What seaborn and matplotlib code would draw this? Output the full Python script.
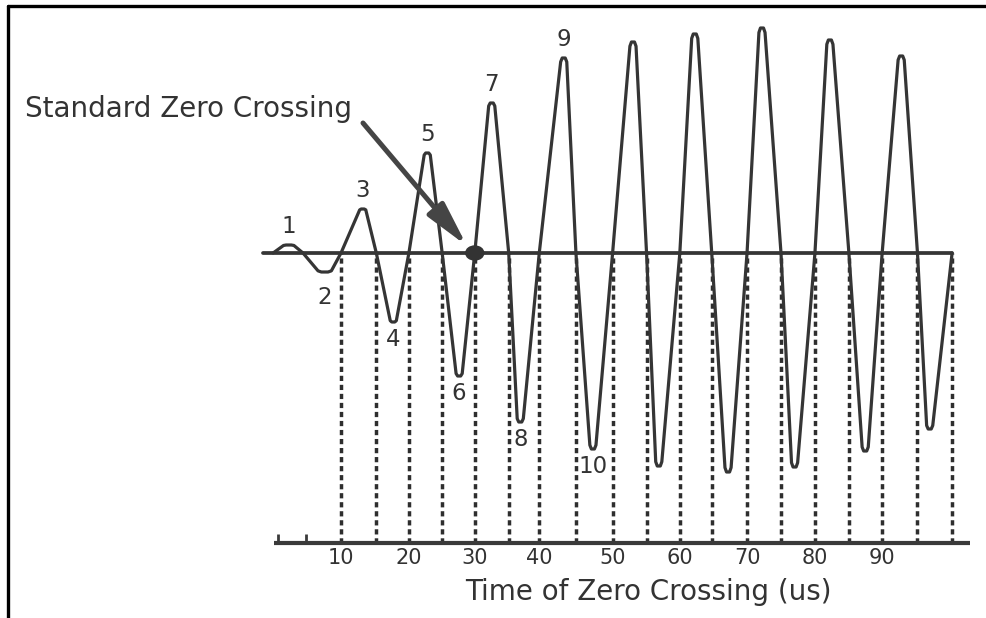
import numpy as np
import pandas as pd
import matplotlib
matplotlib.use("Agg")
import matplotlib.pyplot as plt
import seaborn as sns
from matplotlib.patches import Ellipse
from matplotlib.lines import Line2D

# ---------------- data ----------------
# zero-crossing times (us) bounding each half-cycle lobe
crossing_times = [0.0, 4.4, 10.0, 15.2, 20.0, 24.9, 29.7, 34.7, 39.2, 44.6, 50.0,
                  55.0, 59.9, 64.6, 69.8, 74.8, 79.8, 84.8, 89.7, 94.9, 100.0]
# time (us) of each lobe's extreme
peak_times = [2.3, 7.6, 13.2, 17.7, 22.7, 27.4, 32.2, 36.4, 42.8, 47.1,
              53.0, 56.8, 62.1, 67.0, 72.0, 76.8, 82.0, 87.2, 92.5, 96.7]
# lobe extreme amplitude (arbitrary units, + up)
peak_values = [8, -19, 44, -69, 100, -123, 150, -169, 195, -196,
               211, -213, 219, -219, 225, -214, 213, -198, 197, -176]
lobe_labels = ["1", "2", "3", "4", "5", "6", "7", "8", "9", "10"]
tick_values = [10, 20, 30, 40, 50, 60, 70, 80, 90]
minor_ticks = [0.7, 4.9]
highlight_index = 6          # crossing marked "Standard Zero Crossing"
title_text = "Standard Zero Crossing"
xlabel_text = "Time of Zero Crossing (us)"

# ---------------- layout helpers (pixel -> data) ----------------
W, H = 986, 618
X0, SX = 273.1, 6.79     # pixel x of t=0, pixels per us
Y0 = 253.0               # pixel y of zero line
def tx(px):
    return (px - X0) / SX
def ty(py):
    return Y0 - py

sns.set_theme(style="white")
plt.rcParams["font.family"] = ["DejaVu Sans"]

fig = plt.figure(figsize=(W / 100, H / 100), dpi=100)
ax = fig.add_axes([0, 0, 1, 1])
ax.set_xlim(tx(0), tx(W))
ax.set_ylim(ty(H), ty(0))
ax.axis("off")

line_col = "#353535"
text_col = "#333333"

# ---------------- waveform vertices ----------------
xs, ys = [], []
for i, (pt, a) in enumerate(zip(peak_times, peak_values)):
    t0, t1 = crossing_times[i], crossing_times[i + 1]
    half = 0.5 * (t1 - t0)
    h = 0.45 if abs(a) > 30 else 0.35 * half
    drop = 0.02 if abs(a) > 30 else 0.06
    xs += [t0, pt - h, pt - 0.5 * h, pt + 0.5 * h, pt + h]
    ys += [0, a * (1 - drop), a, a, a * (1 - drop)]
xs.append(crossing_times[-1])
ys.append(0)
wave = pd.DataFrame({"t": xs, "v": ys, "order": np.arange(len(xs))})

# zero line
ax.plot([tx(263), crossing_times[-1]], [0, 0], color=line_col, lw=2.7,
        solid_capstyle="butt", zorder=3)

# dashed drop lines from crossings to the time axis
axis_y = ty(543)
ax.vlines(crossing_times[2:], axis_y, 0, colors="#2e2e2e", lw=2.5,
          linestyles=[(0, (1.5, 1.1))], zorder=2)

sns.lineplot(data=wave, x="t", y="v", sort=False, estimator=None, ax=ax,
             color=line_col, lw=2.3, zorder=4)
for ln in ax.get_lines():
    ln.set_solid_joinstyle("round")
    ln.set_solid_capstyle("round")

# lobe number labels
for i, lab in enumerate(lobe_labels):
    a = peak_values[i]
    dy = 13.5 if a > 0 else -12.5
    if i == 1:
        dy = -18
    ax.annotate(lab, (peak_times[i], a), xytext=(0, dy), textcoords="offset points",
                ha="center", va="center", fontsize=16.5, color=text_col, zorder=5)

# highlighted crossing dot
hx = crossing_times[highlight_index]
ax.add_patch(Ellipse((hx, 0), width=18 / SX, height=14, color="#333333", zorder=6))

# arrow + annotation text
ax.annotate("", xy=(tx(467), ty(246)), xytext=(tx(363), ty(123)),
            arrowprops=dict(arrowstyle="-|>,head_length=1.5,head_width=0.35",
                            lw=3.6, color="#454545", shrinkA=0, shrinkB=0,
                            mutation_scale=18), zorder=6)
ax.text(tx(25), ty(109), title_text, ha="left", va="center", fontsize=20,
        color=text_col)

# time axis
ax.plot([tx(274), tx(970)], [axis_y, axis_y], color="#3a3a3a", lw=3.0,
        solid_capstyle="butt", zorder=3)
ax.vlines(minor_ticks, axis_y, axis_y + 9, colors="#3a3a3a", lw=2.0)
tick_pos = [crossing_times[2 * (v // 10)] for v in tick_values]
for p, v in zip(tick_pos, tick_values):
    ax.text(p, ty(558), str(v), ha="center", va="center", fontsize=15,
            color=text_col)
ax.text(tx(648), ty(592), xlabel_text, ha="center", va="center", fontsize=20,
        color=text_col)

# page frame (top and left edges)
fig.add_artist(Line2D([8 / W, 1], [1 - 6 / H, 1 - 6 / H], transform=fig.transFigure,
                      color="black", lw=2.4))
fig.add_artist(Line2D([8 / W, 8 / W], [0, 1 - 6 / H], transform=fig.transFigure,
                      color="black", lw=2.4))

fig.savefig("out.png", dpi=100, facecolor="white")
